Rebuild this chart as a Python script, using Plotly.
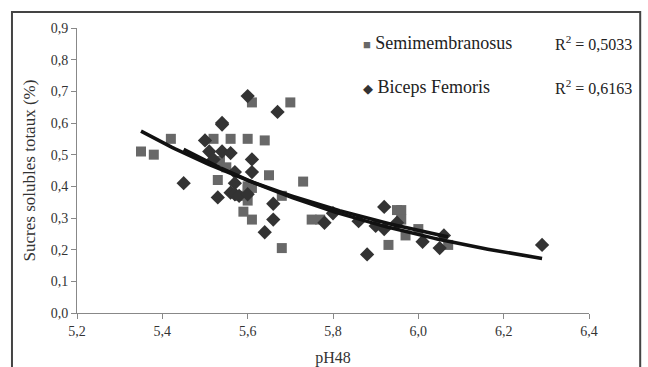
import numpy as np
import plotly.graph_objects as go

# Semimembranosus (squares)
sm_ph = [5.35, 5.38, 5.42, 5.52, 5.56, 5.60, 5.64, 5.61, 5.70, 5.535, 5.55, 5.53,
         5.65, 5.60, 5.61, 5.59, 5.61, 5.68, 5.60, 5.60, 5.58, 5.73, 5.75, 5.77,
         5.95, 5.96, 5.96, 5.93, 5.97, 6.00, 6.07, 5.68]
sm_sugar = [0.51, 0.50, 0.55, 0.55, 0.55, 0.55, 0.545, 0.665, 0.665, 0.48, 0.46, 0.42,
            0.435, 0.40, 0.395, 0.32, 0.295, 0.37, 0.39, 0.355, 0.37, 0.415, 0.295, 0.295,
            0.325, 0.325, 0.295, 0.215, 0.245, 0.265, 0.215, 0.205]

# Biceps Femoris (diamonds)
bf_ph = [5.60, 5.67, 5.54, 5.54, 5.50, 5.51, 5.54, 5.56, 5.61, 5.52, 5.57, 5.61,
         5.45, 5.57, 5.56, 5.57, 5.58, 5.60, 5.53, 5.66, 5.66, 5.64, 5.78, 5.80,
         5.86, 5.92, 5.88, 5.90, 5.92, 5.95, 6.01, 6.05, 6.06, 6.29]
bf_sugar = [0.685, 0.635, 0.60, 0.595, 0.545, 0.51, 0.51, 0.505, 0.485, 0.485, 0.445, 0.445,
            0.41, 0.41, 0.38, 0.375, 0.37, 0.375, 0.365, 0.345, 0.295, 0.255, 0.285, 0.315,
            0.29, 0.335, 0.185, 0.275, 0.265, 0.285, 0.225, 0.205, 0.245, 0.215]

series_names = ["Semimembranosus", "Biceps Femoris"]
r2_labels = ["R<sup>2</sup> = 0,5033", "R<sup>2</sup> = 0,6163"]
x_ticks = [5.2, 5.4, 5.6, 5.8, 6.0, 6.2, 6.4]
y_ticks = [0.0, 0.1, 0.2, 0.3, 0.4, 0.5, 0.6, 0.7, 0.8, 0.9]


def power_fit(x, y):
    x = np.asarray(x, float)
    y = np.asarray(y, float)
    b, lna = np.polyfit(np.log(x), np.log(y), 1)
    xs = np.linspace(x.min(), x.max(), 100)
    return xs, np.exp(lna) * xs ** b


FONT = "'Liberation Serif', 'DejaVu Serif', serif"
SQ_COLOR = "#686868"
DI_COLOR = "#333333"

fig = go.Figure()
fig.add_trace(go.Scatter(x=sm_ph, y=sm_sugar, mode="markers", name=series_names[0],
                         showlegend=False,
                         marker=dict(symbol="square", size=10, color=SQ_COLOR)))
fig.add_trace(go.Scatter(x=bf_ph, y=bf_sugar, mode="markers", name=series_names[1],
                         showlegend=False,
                         marker=dict(symbol="diamond", size=11, color=DI_COLOR)))
for xs_, ys_ in (power_fit(sm_ph, sm_sugar), power_fit(bf_ph, bf_sugar)):
    fig.add_trace(go.Scatter(x=xs_, y=ys_, mode="lines", showlegend=False,
                             line=dict(color="#111111", width=3.5)))

fig.update_layout(
    width=648, height=367,
    margin=dict(l=77, r=59, t=28, b=54, autoexpand=False),
    paper_bgcolor="white", plot_bgcolor="white",
    separators=",.",
    showlegend=False,
    font=dict(family=FONT, size=14, color="#333333"),
    xaxis=dict(range=[5.2, 6.4], tickvals=x_ticks, tickformat=".1f", automargin=False,
               showgrid=False, zeroline=False, showline=True, linecolor="#888888",
               linewidth=1, ticks="outside", ticklen=5, tickcolor="#888888",
               tickfont=dict(family=FONT, size=14, color="#333333"),
               title=dict(text="pH48", font=dict(family=FONT, size=16), standoff=22)),
    yaxis=dict(range=[0, 0.9], tickvals=y_ticks, tickformat=".1f", automargin=False,
               showgrid=False, zeroline=False, showline=True, linecolor="#888888",
               linewidth=1, ticks="outside", ticklen=5, tickcolor="#888888",
               tickfont=dict(family=FONT, size=14, color="#333333"),
               title=dict(text="Sucres solubles totaux (%)", font=dict(family=FONT, size=17),
                          standoff=10)),
)

legend_y = [0.947, 0.792]
glyphs = [("\u25A0", SQ_COLOR, 13), ("\u25C6", DI_COLOR, 13)]
for i in range(2):
    g, c, s = glyphs[i]
    fig.add_annotation(xref="paper", yref="paper", x=0.555, y=legend_y[i],
                       text=f"<span style='color:{c};font-size:{s}px'>{g}</span> {series_names[i]}",
                       showarrow=False, xanchor="left", yanchor="middle",
                       font=dict(family=FONT, size=18, color="#222222"))
    fig.add_annotation(xref="paper", yref="paper", x=0.93, y=legend_y[i],
                       text=r2_labels[i], showarrow=False, xanchor="left", yanchor="middle",
                       font=dict(family=FONT, size=16, color="#222222"))

fig.add_shape(type="rect", xref="paper", yref="paper",
              x0=-0.127, x1=1.10, y0=-0.3, y1=1.056,
              line=dict(color="#444444", width=2), layer="below")

fig.write_html("out.html", config={"displayModeBar": False},
               post_script="document.body.style.margin='0';document.body.style.padding='0';")
